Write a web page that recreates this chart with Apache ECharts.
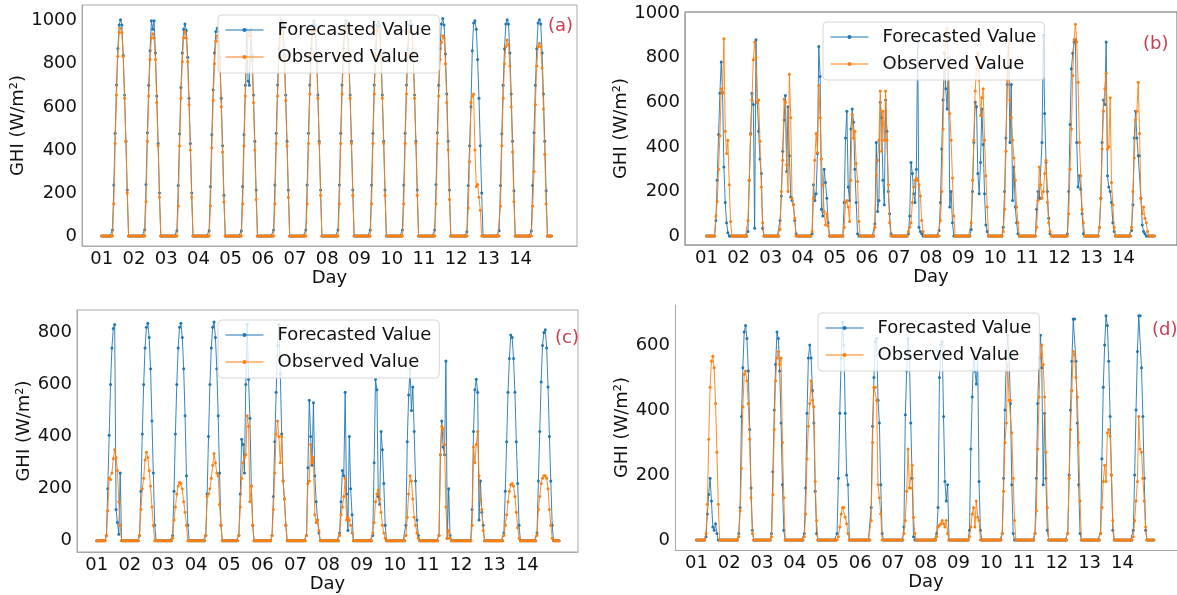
<!DOCTYPE html>
<html><head><meta charset="utf-8">
<script src="https://cdn.jsdelivr.net/npm/echarts@6/dist/echarts.min.js"></script>
<style>html,body{margin:0;padding:0;background:#fff}#c{width:1177px;height:595px}</style>
</head><body><div id="c"></div>
<script>
// ---------- labels ----------
const dayLabels = ['01','02','03','04','05','06','07','08','09','10','11','12','13','14'];
const dayTickHours = [0,24,48,72,96,120,144,168,192,216,240,264,288,312];
const yTicksA = [0,200,400,600,800,1000];
const yTicksB = [0,200,400,600,800,1000];
const yTicksC = [0,200,400,600,800];
const yTicksD = [0,200,400,600];
const seriesNames = ['Forecasted Value','Observed Value'];
const panelTags = ['(a)','(b)','(c)','(d)'];
const yName = 'GHI (W/m²)';
const xName = 'Day';

// ---------- data: per day, hourly GHI starting at the panel's first listed hour (other hours 0) ----------
const aStartHour = 8;
const aForecast = [
 [28,237,477,701,871,980,1005,980,840,655,440,214,0],
 [30,240,480,700,860,1000,960,1000,850,650,430,200,0],
 [25,235,475,690,850,960,985,955,830,640,430,200,0],
 [25,230,470,680,850,950,965,950,830,640,420,190,0],
 [25,230,470,700,960,720,700,960,840,655,440,214,0],
 [28,237,477,701,871,980,1000,980,840,655,440,214,0],
 [28,237,477,701,871,980,1000,980,840,655,440,214,0],
 [28,237,477,701,871,980,1000,975,840,655,440,214,0],
 [28,237,477,701,871,980,995,975,840,655,440,214,0],
 [28,237,477,701,871,980,1000,980,840,655,440,214,0],
 [28,240,480,700,870,985,1010,980,845,660,440,214,0],
 [20,235,420,600,860,990,1000,960,820,640,420,200,0],
 [25,235,475,700,870,985,1005,985,850,660,440,210,0],
 [25,235,480,700,870,990,1005,985,850,660,440,210,0]
];
const aObserved = [
 [0,150,430,655,835,945,965,945,835,640,440,200,0],
 [0,160,440,650,820,920,940,920,820,620,420,180,0],
 [0,140,420,640,810,920,950,920,810,610,400,180,0],
 [0,140,410,630,800,905,930,905,800,600,390,160,0],
 [0,150,420,650,830,930,950,930,820,620,400,170,0],
 [0,150,430,650,830,940,960,940,830,630,420,180,0],
 [0,150,430,660,840,950,970,950,835,640,430,190,0],
 [0,150,430,660,840,950,975,950,835,640,430,190,0],
 [0,150,430,660,840,950,970,950,835,640,430,190,0],
 [0,150,430,660,840,950,965,945,835,640,430,190,0],
 [0,150,430,650,820,900,930,920,800,620,400,170,0],
 [0,130,345,620,650,660,400,230,240,180,120,0,0],
 [0,140,420,640,800,880,910,890,790,600,390,160,0],
 [0,140,300,610,790,880,895,880,780,590,380,150,0]
];

const bStartHour = 5;
const bForecast = [
 [0,0,70,250,455,640,780,645,310,150,60,15,0,0,0],
 [0,0,20,250,460,640,590,35,880,600,470,345,280,35,0],
 [0,0,70,180,380,520,630,290,580,360,175,160,140,70,10],
 [0,0,10,230,160,190,370,850,715,120,90,300,240,170,60],
 [0,0,150,440,560,220,160,480,570,510,300,150,10,0,0],
 [0,55,420,110,160,600,530,250,140,610,470,200,100,10,0],
 [0,0,10,90,330,280,190,150,300,870,40,20,10,0,0],
 [0,25,150,390,610,820,660,570,800,130,200,60,0,0,0],
 [0,30,200,420,600,580,280,190,330,570,410,190,50,20,0],
 [0,40,200,440,680,880,420,680,160,310,130,60,10,0,0],
 [0,0,120,200,170,170,420,900,550,330,200,80,10,0,0],
 [0,10,200,500,750,820,870,880,420,220,270,210,100,10,0],
 [0,40,170,420,610,590,870,270,220,200,150,60,20,0,0],
 [0,25,140,440,560,440,360,360,170,50,20,10,0,0,0]
];
const bObserved = [
 [0,0,90,155,300,450,660,640,885,470,370,430,230,65,0],
 [0,0,70,250,455,610,790,870,800,600,610,425,220,60,0],
 [0,0,30,200,340,615,600,320,200,725,530,170,140,80,0],
 [0,0,20,170,340,460,375,675,530,345,230,110,50,100,45],
 [0,0,40,150,160,130,65,250,545,440,470,325,245,65,0],
 [0,40,270,340,430,650,380,560,430,650,430,230,60,0,0],
 [0,0,20,40,60,150,220,250,260,250,230,180,70,20,0],
 [0,0,70,200,480,760,900,930,760,550,430,260,90,0,0],
 [0,60,250,430,650,750,820,700,540,620,660,430,270,130,0],
 [0,20,120,380,700,880,610,530,430,350,250,130,60,0,0],
 [0,0,40,160,310,230,170,200,280,340,150,60,20,0,0],
 [0,0,100,300,480,720,880,950,870,690,420,270,120,60,0],
 [0,40,170,390,560,660,730,390,400,620,240,140,40,0,0],
 [0,40,200,350,520,560,690,460,170,100,130,80,60,20,0]
];

const cStartHour = 6;
const cForecast = [
 [0,20,200,405,600,740,815,830,120,70,25,260,0,0,0],
 [0,20,190,410,600,740,820,835,780,660,460,260,60,0,0],
 [0,20,190,410,600,740,820,835,780,660,480,250,60,0,0],
 [0,20,180,400,600,740,820,840,780,660,480,260,60,0,0],
 [0,20,180,390,370,260,600,830,620,470,210,60,0,0,0],
 [0,20,170,380,570,750,830,640,410,230,160,60,0,0,0],
 [0,0,20,280,540,400,290,530,250,150,80,30,0,0,0],
 [0,0,30,150,270,250,570,180,40,400,200,100,0,0,0],
 [0,0,20,300,620,580,170,140,420,350,220,60,0,0,0],
 [0,0,60,380,560,660,500,590,420,230,80,20,0,0,0],
 [0,0,20,330,460,360,330,690,10,200,20,0,0,0,0],
 [0,0,120,420,580,620,570,80,230,110,60,0,0,0,0],
 [0,30,190,380,570,700,790,780,700,570,380,220,60,0,0],
 [0,30,230,420,610,750,800,810,740,590,400,230,60,0,0]
];
const cObserved = [
 [0,20,115,240,235,260,315,350,320,270,150,60,0,0,0],
 [0,20,120,200,240,310,340,320,270,210,130,60,0,0,0],
 [0,10,80,130,180,210,225,220,200,150,110,60,0,0,0],
 [0,20,170,180,200,240,290,335,300,260,250,140,60,0,0],
 [0,20,130,240,300,320,330,480,440,150,210,60,0,0,0],
 [0,20,120,260,410,460,400,300,400,230,160,60,0,0,0],
 [0,0,20,220,230,370,300,320,100,70,80,40,0,0,0],
 [0,0,20,100,130,170,240,80,90,80,60,30,0,0,0],
 [0,0,30,70,150,180,195,160,110,60,30,10,0,0,0],
 [0,0,20,90,180,250,230,160,90,60,30,10,0,0,0],
 [0,0,20,330,440,430,370,130,10,40,10,0,0,0,0],
 [0,0,60,360,300,370,420,250,160,120,40,0,0,0,0],
 [0,20,60,100,150,190,215,220,210,170,110,50,10,0,0],
 [0,20,120,170,220,240,250,250,240,200,120,60,10,0,0]
];

const dStartHour = 6;
const dForecast = [
 [0,10,80,140,190,120,40,30,50,20,0,0,0,0,0],
 [0,20,100,380,530,640,660,620,520,340,160,30,0,0,0],
 [0,20,210,400,540,640,620,520,360,170,30,0,0,0,0],
 [0,20,160,390,560,600,560,460,360,150,20,0,0,0,0],
 [0,20,190,390,560,670,600,390,200,170,0,0,0,0,0],
 [0,0,100,350,500,610,620,430,360,170,20,0,0,0,0],
 [0,0,40,385,520,620,560,360,190,10,0,0,0,0,0],
 [0,0,20,100,500,600,610,380,180,120,170,0,0,0,0],
 [0,0,30,280,440,580,520,480,560,180,30,0,0,0,0],
 [0,0,20,190,400,560,630,560,420,170,20,0,0,0,0],
 [0,0,20,190,420,560,630,530,170,390,190,30,0,0,0],
 [0,0,20,200,400,550,680,680,550,360,170,20,0,0,0],
 [0,0,20,250,470,600,690,660,550,380,200,30,0,0,0],
 [0,0,30,200,400,580,690,690,530,380,190,30,0,0,0]
];
const dObserved = [
 [0,20,110,310,470,550,565,530,420,270,110,0,0,0,0],
 [0,10,90,220,410,510,520,490,420,310,130,20,0,0,0],
 [0,10,140,340,490,560,580,540,560,300,130,0,0,0,0],
 [0,10,80,250,350,420,490,430,410,180,60,0,0,0,0],
 [0,0,10,40,80,100,100,70,50,20,0,0,0,0,0],
 [0,0,60,300,470,470,430,170,130,80,0,0,0,0,0],
 [0,0,20,60,150,280,160,160,230,70,20,0,0,0,0],
 [0,0,10,40,45,50,60,50,40,60,20,0,0,0,0],
 [0,0,10,40,80,100,40,120,70,60,0,0,0,0,0],
 [0,0,20,150,300,360,540,430,430,330,190,60,0,0,0],
 [0,0,20,90,280,440,570,600,540,440,270,100,0,0,0],
 [0,0,20,190,340,460,580,570,500,440,300,120,0,0,0],
 [0,0,20,100,180,230,180,330,340,320,200,60,0,0,0],
 [0,0,10,60,120,180,380,280,270,190,120,40,0,0,0]
];

// ---------- build hourly series ----------
function hourly(days, startHour) {
  const out = [];
  for (let d = 0; d < days.length; d++) {
    for (let h = 0; h < 24; h++) {
      const i = h - startHour;
      const v = (i >= 0 && i < days[d].length) ? days[d][i] : 0;
      out.push([d * 24 + h, v]);
    }
  }
  return out;
}

const FONT = 'DejaVu Sans';
const FS = 18;
const BLUE = '#1f77b4', ORANGE = '#ff7f0e';

const panels = [
  {grid:{left:82, top:5, width:495, height:241}, xr:[-14.7,354], yr:[-46,1073], yt:yTicksA, box:true, f:aForecast, o:aObserved, s:aStartHour,
   legend:{left:218, top:15}, tag:{left:548, top:17}, yGap:45, xGap:19},
  {grid:{left:685, top:12, width:496, height:233}, xr:[-16.1,352], yr:[-40,1004.5], yt:yTicksB, box:true, f:bForecast, o:bObserved, s:bStartHour,
   legend:{left:823, top:22}, tag:{left:1143, top:35}, yGap:45, xGap:21},
  {grid:{left:77, top:310, width:501, height:242}, xr:[-14.3,348.7], yr:[-43,886], yt:yTicksC, box:true, f:cForecast, o:cObserved, s:cStartHour,
   legend:{left:218, top:320}, tag:{left:555, top:329}, yGap:41, xGap:20},
  {grid:{left:675, top:305, width:508, height:245}, xr:[-15.7,352], yr:[-31,723], yt:yTicksD, box:false, f:dForecast, o:dObserved, s:dStartHour,
   legend:{left:818, top:313}, tag:{left:1152, top:321}, yGap:39, xGap:21}
];

const option = {
  animation: false,
  backgroundColor: '#ffffff',
  textStyle: {fontFamily: FONT},
  title: [], legend: [], grid: [], xAxis: [], yAxis: [], series: []
};

panels.forEach((p, k) => {
  option.grid.push(Object.assign({
    show: p.box, borderColor: k === 1 ? '#666' : '#a8a8a8', borderWidth: 1, backgroundColor: 'transparent'
  }, p.grid));
  option.xAxis.push({
    type: 'value', gridIndex: k, min: p.xr[0], max: p.xr[1],
    name: xName, nameLocation: 'middle', nameGap: p.xGap,
    nameTextStyle: {fontSize: FS, color: '#111', fontFamily: FONT},
    axisLine: {show: true, onZero: false, lineStyle: {color: '#a8a8a8', width: 1}},
    axisTick: {show: false, customValues: dayTickHours},
    splitLine: {show: false},
    axisLabel: {customValues: dayTickHours, fontSize: FS, color: '#111', margin: 4, fontFamily: FONT,
      formatter: v => dayLabels[Math.round(v / 24)] || ''}
  });
  option.yAxis.push({
    type: 'value', gridIndex: k, min: p.yr[0], max: p.yr[1],
    name: yName, nameLocation: 'middle', nameGap: p.yGap,
    nameTextStyle: {fontSize: FS, color: '#111', fontFamily: FONT},
    axisLine: {show: true, onZero: false, lineStyle: {color: '#a8a8a8', width: 1}},
    axisTick: {show: false, customValues: p.yt},
    splitLine: {show: false},
    axisLabel: {customValues: p.yt, fontSize: FS, color: '#111', margin: 5, fontFamily: FONT,
      formatter: v => String(v)}
  });
  option.title.push({
    text: panelTags[k], left: p.tag.left, top: p.tag.top, padding: 0,
    textStyle: {fontSize: FS, fontWeight: 'normal', color: '#c8404e', fontFamily: FONT}
  });
  option.legend.push({
    data: seriesNames, orient: 'vertical', left: p.legend.left, top: p.legend.top,
    padding: [5, 8, 6, 7], itemGap: 7, itemWidth: 38, itemHeight: 5,
    backgroundColor: 'rgba(255,255,255,0.8)', borderColor: '#d6d6d6', borderWidth: 1, borderRadius: 4,
    lineStyle: {width: 1},
    textStyle: {fontSize: FS, color: '#111', fontFamily: FONT, lineHeight: 20, padding: [0, 0, 0, 9]},
    selectedMode: false
  });
  const mk = (name, data, color, z) => ({
    name, type: 'line', xAxisIndex: k, yAxisIndex: k, data,
    showSymbol: true, symbol: 'circle', symbolSize: 3, z,
    lineStyle: {color, width: 0.9}, itemStyle: {color},
    emphasis: {disabled: true}, silent: true, clip: true
  });
  option.series.push(mk(seriesNames[0], hourly(p.f, p.s), BLUE, 2));
  option.series.push(mk(seriesNames[1], hourly(p.o, p.s), ORANGE, 3));
});

const chart = echarts.init(document.getElementById('c'), null, {renderer: 'canvas'});
chart.setOption(option);
</script>
</body></html>
